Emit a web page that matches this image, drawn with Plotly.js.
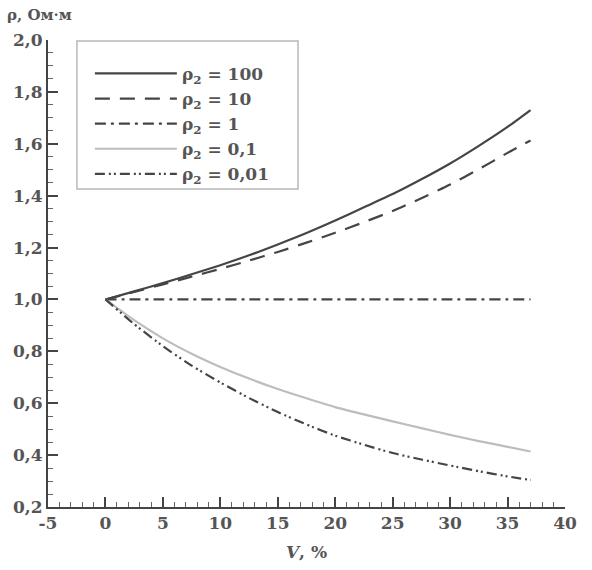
<!DOCTYPE html>
<html>
<head>
<meta charset="utf-8">
<script src="https://cdn.plot.ly/plotly-3.0.1.min.js"></script>
<style>html,body{margin:0;padding:0;background:#fff;}#chart{width:592px;height:570px;}</style>
</head>
<body>
<div id="chart"></div>
<script>
// Volume fraction V, %
const V = [0, 2.5, 5, 7.5, 10, 12.5, 15, 17.5, 20, 22.5, 25, 27.5, 30, 32.5, 35, 37];
// Series values (rho, Ohm*m)
const rho100 = [1.0, 1.031, 1.063, 1.097, 1.132, 1.170, 1.212, 1.256, 1.304, 1.355, 1.406, 1.463, 1.524, 1.592, 1.665, 1.730];
const rho10  = [1.0, 1.029, 1.058, 1.088, 1.118, 1.150, 1.183, 1.219, 1.257, 1.298, 1.341, 1.390, 1.443, 1.502, 1.565, 1.613];
const rho1   = [1.0, 1.0, 1.0, 1.0, 1.0, 1.0, 1.0, 1.0, 1.0, 1.0, 1.0, 1.0, 1.0, 1.0, 1.0, 1.0];
const rho01  = [1.0, 0.920, 0.850, 0.791, 0.740, 0.695, 0.655, 0.619, 0.585, 0.557, 0.530, 0.504, 0.478, 0.454, 0.432, 0.414];
const rho001 = [1.0, 0.905, 0.820, 0.745, 0.680, 0.620, 0.566, 0.518, 0.475, 0.440, 0.408, 0.383, 0.360, 0.338, 0.318, 0.304];
const seriesNames = ['ρ<sub>2</sub> = 100', 'ρ<sub>2</sub> = 10', 'ρ<sub>2</sub> = 1', 'ρ<sub>2</sub> = 0,1', 'ρ<sub>2</sub> = 0,01'];
const xTickVals = [-5, 0, 5, 10, 15, 20, 25, 30, 35, 40];
const yTickVals = [0.2, 0.4, 0.6, 0.8, 1.0, 1.2, 1.4, 1.6, 1.8, 2.0];

const FAM = 'DejaVu Serif, Liberation Serif, serif';
const styles = [
  {color: '#454545', width: 2.2, dash: 'solid'},
  {color: '#454545', width: 2.2, dash: '15px,10px'},
  {color: '#454545', width: 2.2, dash: '11px,5px,3px,5px'},
  {color: '#bdbdbd', width: 2.2, dash: 'solid'},
  {color: '#454545', width: 2.2, dash: '10px,4px,2px,3px,2px,4px'}
];
const ys = [rho100, rho10, rho1, rho01, rho001];
const traces = ys.map((y, i) => ({
  x: V, y: y, type: 'scatter', mode: 'lines', name: seriesNames[i],
  line: Object.assign({shape: 'spline', smoothing: 0.6}, styles[i])
}));

const tickFont = {family: FAM, size: 17, color: '#555', weight: 'bold'};
const layout = {
  width: 592, height: 570,
  margin: {l: 48, r: 27, t: 40, b: 63},
  paper_bgcolor: '#fff', plot_bgcolor: '#fff',
  separators: ', ',
  showlegend: true,
  legend: {
    x: 0.081, y: 0.966, xanchor: 'left', yanchor: 'top',
    bgcolor: 'rgba(0,0,0,0)', borderwidth: 0,
    font: {family: FAM, size: 17, color: '#555', weight: 'bold'},
    itemwidth: 82, tracegroupgap: 0,
    itemclick: false
  },
  shapes: [{
    type: 'rect', xref: 'paper', yref: 'paper',
    x0: 0.056, x1: 0.4836, y0: 0.681, y1: 0.998,
    line: {color: '#b8b8b8', width: 1.5}, fillcolor: 'rgba(0,0,0,0)', layer: 'below'
  }],
  xaxis: {
    range: [-5, 40], tickvals: xTickVals, ticktext: xTickVals.map(String),
    showgrid: false, zeroline: false, showline: true, linecolor: '#444', linewidth: 2,
    ticks: 'inside', ticklen: 10, tickwidth: 2, tickcolor: '#444',
    tickfont: tickFont,
    minor: {dtick: 1, tick0: 0, ticks: 'inside', ticklen: 5, tickwidth: 1, tickcolor: '#666', showgrid: false},
    title: {text: '<i>V</i>, %', font: {family: FAM, size: 17, color: '#555', weight: 'bold'}, standoff: 14}
  },
  yaxis: {
    range: [0.2, 2.0], tickvals: yTickVals, tickformat: '.1f',
    showgrid: false, zeroline: false, showline: true, linecolor: '#444', linewidth: 2,
    ticks: 'inside', ticklen: 10, tickwidth: 2, tickcolor: '#444',
    tickfont: tickFont,
    minor: {dtick: 0.05, tick0: 0, ticks: 'inside', ticklen: 5, tickwidth: 1, tickcolor: '#666', showgrid: false}
  },
  annotations: [{
    text: 'ρ, Ом·м', xref: 'paper', yref: 'paper', x: -0.083, y: 1.0535,
    xanchor: 'left', yanchor: 'middle', showarrow: false,
    font: {family: FAM, size: 15, color: '#555', weight: 'bold'}
  }]
};
Plotly.newPlot('chart', traces, layout, {displayModeBar: false, staticPlot: true});
</script>
</body>
</html>
